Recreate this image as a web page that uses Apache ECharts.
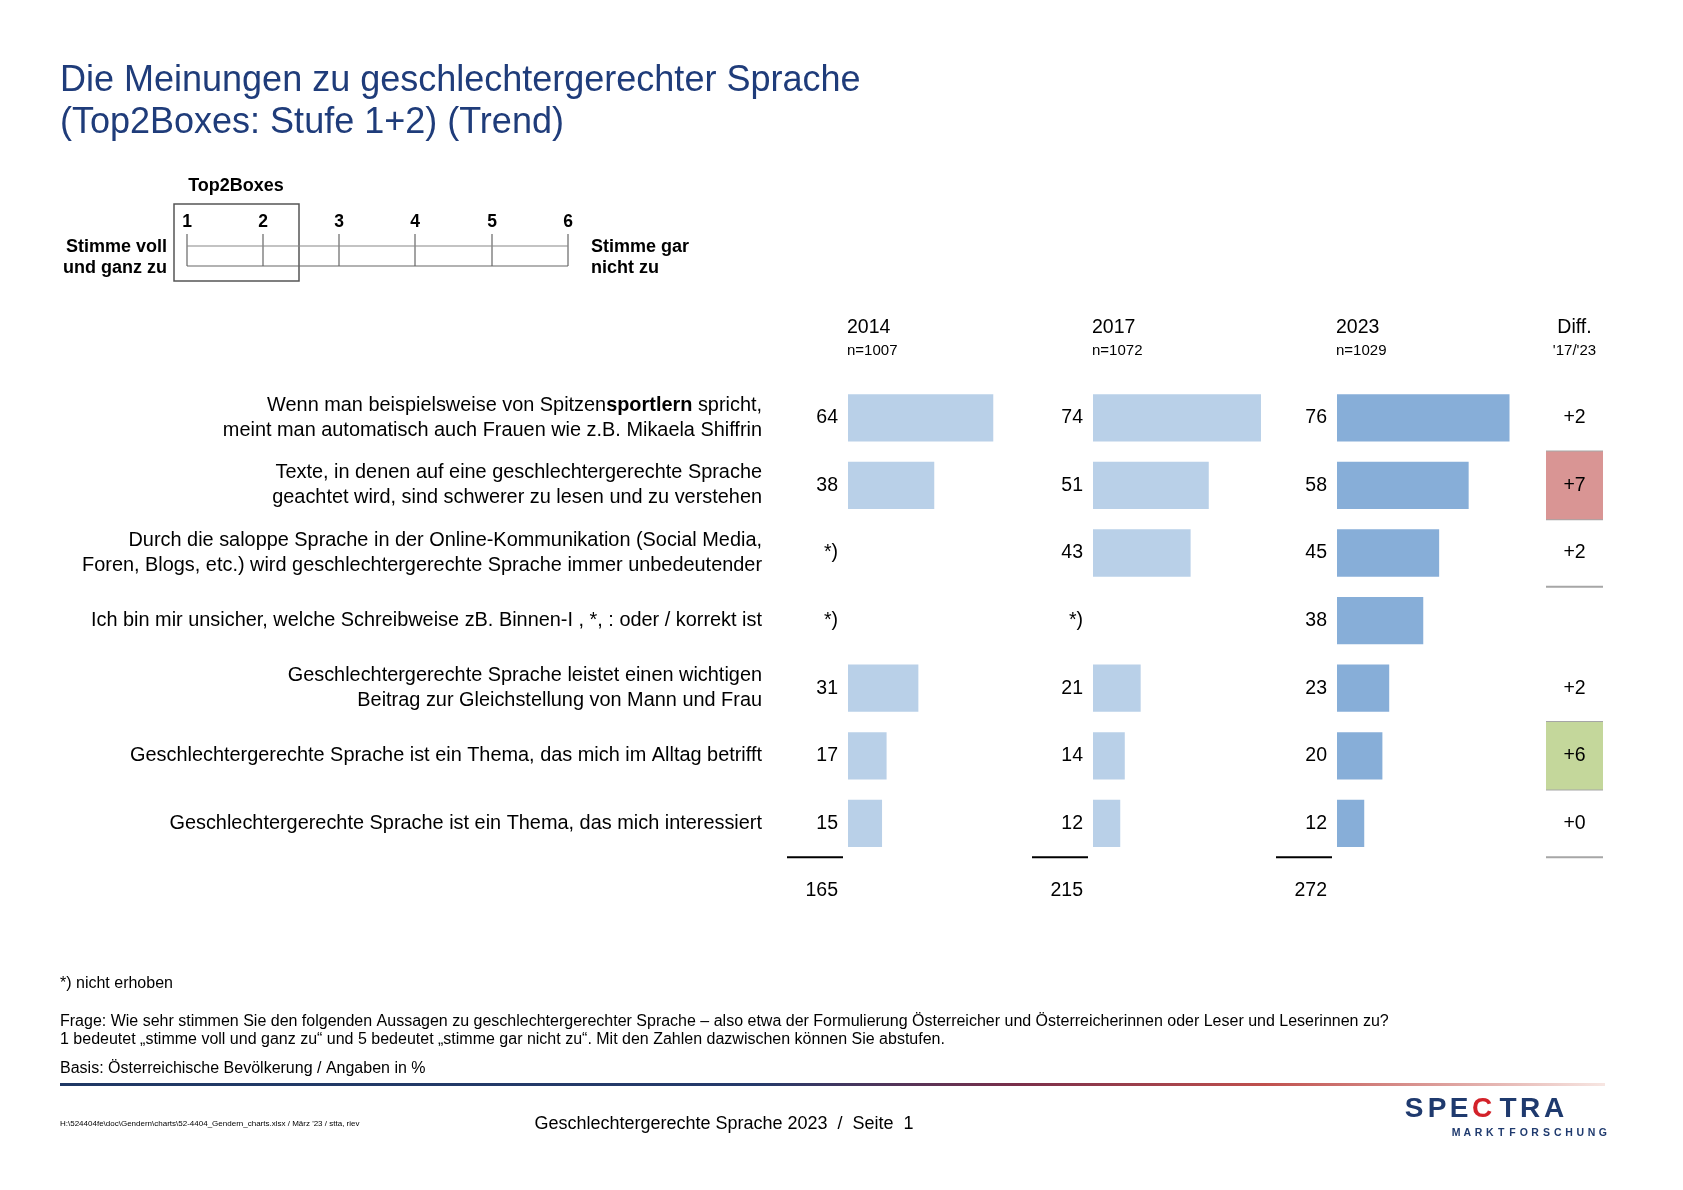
<!DOCTYPE html>
<html><head><meta charset="utf-8">
<script src="https://cdn.jsdelivr.net/npm/echarts@6/dist/echarts.min.js"></script>
<style>html,body{margin:0;padding:0;background:#fff}#c{width:1683px;height:1190px}</style>
</head><body><div id="c"></div>
<script>
// ---------- data ----------
const categories = [
  'Wenn man beispielsweise von Spitzen{b|sportlern} spricht,\nmeint man automatisch auch Frauen wie z.B. Mikaela Shiffrin',
  'Texte, in denen auf eine geschlechtergerechte Sprache\ngeachtet wird, sind schwerer zu lesen und zu verstehen',
  'Durch die saloppe Sprache in der Online-Kommunikation (Social Media,\nForen, Blogs, etc.) wird geschlechtergerechte Sprache immer unbedeutender',
  'Ich bin mir unsicher, welche Schreibweise zB. Binnen-I , *, : oder / korrekt ist',
  'Geschlechtergerechte Sprache leistet einen wichtigen\nBeitrag zur Gleichstellung von Mann und Frau',
  'Geschlechtergerechte Sprache ist ein Thema, das mich im Alltag betrifft',
  'Geschlechtergerechte Sprache ist ein Thema, das mich interessiert'
];
const years = ['2014', '2017', '2023'];
const sampleSizes = ['n=1007', 'n=1072', 'n=1029'];
const values2014 = [64, 38, null, null, 31, 17, 15];
const values2017 = [74, 51, 43, null, 21, 14, 12];
const values2023 = [76, 58, 45, 38, 23, 20, 12];
const diffLabels = ['+2', '+7', '+2', null, '+2', '+6', '+0'];
const diffSignificance = [null, 'up', null, null, null, 'down', null];
const scaleTicks = ['1', '2', '3', '4', '5', '6'];
const missingMark = '*)';

// ---------- styling / layout ----------
const FONT = "'Liberation Sans', Arial, sans-serif";
const ROW_TOP = 384, PITCH = 67.6, NROWS = categories.length + 1;
const COL_LEFT = [848, 1093, 1337], COL_W = 227;
const DIFF_LEFT = 1546, DIFF_W = 57;
const barColors = ['#B9D0E8', '#B9D0E8', '#87AED8'];
const sigColors = { up: '#D99594', down: '#C4D79B' };
const yearValues = [values2014, values2017, values2023];

const chart = echarts.init(document.getElementById('c'), null, { renderer: 'canvas' });

const rowNames = categories.concat(['']);
const grids = [], xAxes = [], yAxes = [], series = [];
COL_LEFT.forEach((left, i) => {
  grids.push({ left: left, top: ROW_TOP, width: COL_W, height: PITCH * NROWS });
  xAxes.push({ gridIndex: i, type: 'value', min: 0, max: 100, show: false });
  yAxes.push({
    gridIndex: i, type: 'category', data: rowNames, inverse: true,
    axisLine: { show: false }, axisTick: { show: false }, splitLine: { show: false },
    axisLabel: i === 0 ? {
      show: true, margin: 86, fontFamily: FONT, fontSize: 19.9, color: '#000',
      lineHeight: 25, align: 'right',
      rich: { b: { fontFamily: FONT, fontSize: 19.9, fontWeight: 'bold', color: '#000', lineHeight: 25 } }
    } : { show: false }
  });
  const vals = yearValues[i];
  const total = vals.reduce((s, v) => s + (v || 0), 0);
  const data = vals.map(v => v == null ? { value: 0, label: { formatter: missingMark } } : v);
  data.push({ value: 0, itemStyle: { color: 'rgba(0,0,0,0)' }, label: { formatter: String(total) } });
  series.push({
    type: 'bar', xAxisIndex: i, yAxisIndex: i, data: data,
    barCategoryGap: '30%', itemStyle: { color: barColors[i] }, silent: true,
    label: { show: true, position: 'left', distance: 10, fontFamily: FONT, fontSize: 19.5, color: '#000' }
  });
});
// diff column
grids.push({ left: DIFF_LEFT, top: ROW_TOP, width: DIFF_W, height: PITCH * NROWS });
xAxes.push({ gridIndex: 3, type: 'value', min: 0, max: 1, show: false });
yAxes.push({ gridIndex: 3, type: 'category', data: rowNames, inverse: true, show: false });
const diffData = diffLabels.map((d, i) => ({
  value: 1,
  itemStyle: { color: diffSignificance[i] ? sigColors[diffSignificance[i]] : 'rgba(0,0,0,0)' },
  label: { formatter: d || '' }
}));
diffData.push({ value: 0, itemStyle: { color: 'rgba(0,0,0,0)' }, label: { formatter: '' } });
series.push({
  type: 'bar', xAxisIndex: 3, yAxisIndex: 3, data: diffData, barCategoryGap: '0%', silent: true,
  label: { show: true, position: 'inside', fontFamily: FONT, fontSize: 19.5, color: '#000' }
});

chart.setOption({
  backgroundColor: '#fff', animation: false,
  grid: grids, xAxis: xAxes, yAxis: yAxes, series: series
});

// ---------- decorations ----------
const g = [];
function txt(x, y, text, size, opts) {
  opts = opts || {};
  g.push({ type: 'text', silent: true, style: {
    x: x, y: y, text: text,
    font: (opts.weight || 'normal') + ' ' + size + 'px ' + FONT,
    fill: opts.color || '#000', textAlign: opts.align || 'left', textVerticalAlign: 'middle'
  } });
}
function line(x1, y1, x2, y2, color, w) {
  g.push({ type: 'line', silent: true, shape: { x1: x1, y1: y1, x2: x2, y2: y2 }, style: { stroke: color, lineWidth: w } });
}
// title
txt(60, 81, 'Die Meinungen zu geschlechtergerechter Sprache', 36, { color: '#1F3C7A' });
txt(60, 123, '(Top2Boxes: Stufe 1+2) (Trend)', 36, { color: '#1F3C7A' });

// scale legend
const scaleX = [187, 263, 339, 415, 492, 568];
txt(236, 186, 'Top2Boxes', 18, { weight: 'bold', align: 'center' });
g.push({ type: 'rect', silent: true, shape: { x: 174, y: 204, width: 125, height: 77 }, style: { fill: 'none', stroke: '#555', lineWidth: 1.5 } });
scaleTicks.forEach((t, i) => {
  txt(scaleX[i], 222, t, 17.5, { weight: 'bold', align: 'center' });
  line(scaleX[i], 234, scaleX[i], 266, '#666', 1.2);
});
line(scaleX[0], 246, scaleX[5], 246, '#888', 1.2);
line(scaleX[0], 266, scaleX[5], 266, '#666', 1.2);
txt(167, 247, 'Stimme voll', 18, { weight: 'bold', align: 'right' });
txt(167, 268, 'und ganz zu', 18, { weight: 'bold', align: 'right' });
txt(591, 247, 'Stimme gar', 18, { weight: 'bold' });
txt(591, 268, 'nicht zu', 18, { weight: 'bold' });

// column headers
years.forEach((y, i) => {
  txt(COL_LEFT[i] - 1, 328, y, 19.5);
  txt(COL_LEFT[i] - 1, 351, sampleSizes[i], 15);
});
txt(DIFF_LEFT + DIFF_W / 2, 328, 'Diff.', 19.5, { align: 'center' });
txt(DIFF_LEFT + DIFF_W / 2, 351, "'17/'23", 15, { align: 'center' });

// row boundaries from axis
const rowY = rowNames.map((_, i) => chart.convertToPixel({ yAxisIndex: 0 }, i));
const boundary = i => (rowY[i] + rowY[i + 1]) / 2;  // between row i and i+1
const sumY = boundary(categories.length - 1);
COL_LEFT.forEach(left => line(left - 61, sumY, left - 5, sumY, '#000', 2));
// diff separators
const topOf = i => i === 0 ? rowY[0] - PITCH / 2 : boundary(i - 1);
const botOf = i => boundary(i);
const sepYs = [];
diffSignificance.forEach((s, i) => { if (s) { sepYs.push(topOf(i), botOf(i)); } });
sepYs.push(botOf(2), botOf(categories.length - 1));
sepYs.forEach(y => line(DIFF_LEFT, y, DIFF_LEFT + DIFF_W, y, '#A6A6A6', 2));

// footnotes
txt(60, 984, '*) nicht erhoben', 16);
txt(60, 1022, 'Frage: Wie sehr stimmen Sie den folgenden Aussagen zu geschlechtergerechter Sprache \u2013 also etwa der Formulierung \u00D6sterreicher und \u00D6sterreicherinnen oder Leser und Leserinnen zu?', 16);
txt(60, 1040, '1 bedeutet \u201Estimme voll und ganz zu\u201C und 5 bedeutet \u201Estimme gar nicht zu\u201C. Mit den Zahlen dazwischen k\u00F6nnen Sie abstufen.', 16);
txt(60, 1069, 'Basis: \u00D6sterreichische Bev\u00F6lkerung / Angaben in %', 16);
g.push({ type: 'rect', silent: true, shape: { x: 60, y: 1083, width: 1545, height: 3 }, style: {
  fill: new echarts.graphic.LinearGradient(0, 0, 1, 0, [
    { offset: 0, color: '#1F3864' }, { offset: 0.45, color: '#253A6A' },
    { offset: 0.62, color: '#7A2F4A' }, { offset: 0.78, color: '#C0504D' }, { offset: 1, color: '#F7E6E2' }
  ]) } });
txt(60, 1124, "H:\\524404fe\\doc\\Gendern\\charts\\52-4404_Gendern_charts.xlsx / M\u00E4rz '23 / stta, riev", 8);
txt(724, 1124, 'Geschlechtergerechte Sprache 2023  /  Seite  1', 18, { align: 'center' });

// logo
const logoLetters = ['S', 'P', 'E', 'C', 'T', 'R', 'A'];
const logoX = [1414, 1437, 1459, 1482, 1508, 1530, 1554];
logoLetters.forEach((l, i) => txt(logoX[i], 1109, l, 28, { weight: 'bold', align: 'center', color: l === 'C' ? '#D3222A' : '#1F3A6E' }));
const sub = 'MARKTFORSCHUNG'.split('');
sub.forEach((l, i) => txt(1456 + i * 11.3, 1133, l, 10.5, { weight: 'bold', align: 'center', color: '#1F3A6E' }));

chart.setOption({ graphic: { elements: g } });
</script>
</body></html>
